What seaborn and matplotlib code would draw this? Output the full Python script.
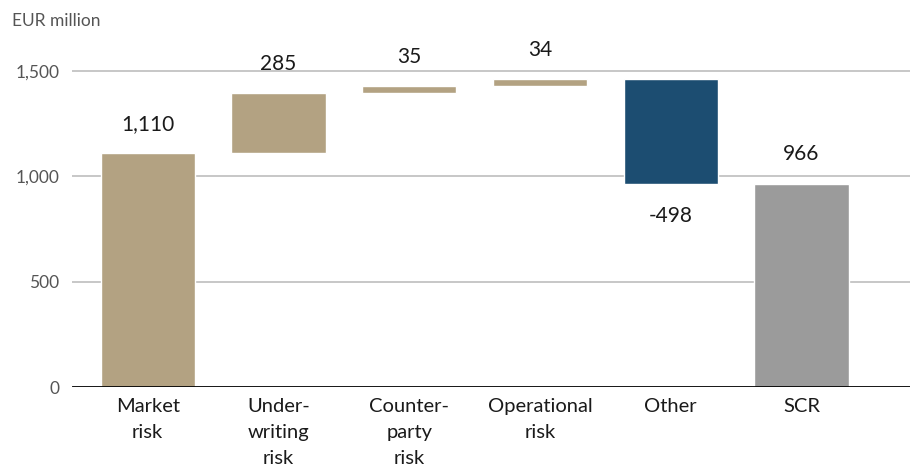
import matplotlib
matplotlib.use("Agg")
import matplotlib.pyplot as plt
import seaborn as sns

# data
categories = ["Market\nrisk", "Under-\nwriting\nrisk", "Counter-\nparty\nrisk",
              "Operational\nrisk", "Other", "SCR"]
values = [1110, 285, 35, 34, -498, 966]
labels = ["1,110", "285", "35", "34", "-498", "966"]
colors = ["#B3A282", "#B3A282", "#B3A282", "#B3A282", "#1C4D71", "#9B9B9B"]

# waterfall bottoms / tops
bottoms = []
run = 0
for i, v in enumerate(values):
    if i == len(values) - 1:
        bottoms.append(0)
    elif v >= 0:
        bottoms.append(run)
        run += v
    else:
        run += v
        bottoms.append(run)
tops = [b + abs(v) for b, v in zip(bottoms, values)]

sns.set_style("white")
plt.rcParams["font.family"] = ["Lato", "DejaVu Sans"]

fig, ax = plt.subplots(figsize=(9.1, 4.68), dpi=100)
fig.subplots_adjust(left=0.079, right=1.0, bottom=0.173, top=0.893)

sns.barplot(x=categories, y=tops, hue=categories, palette=colors,
            legend=False, width=0.72, saturation=1, ax=ax, zorder=3)

# shift the bars to float
for p, b, v in zip(ax.patches, bottoms, values):
    p.set_y(b)
    p.set_height(abs(v))

for i, (b, v, t) in enumerate(zip(bottoms, values, labels)):
    if v >= 0:
        ax.annotate(t, (i, b + v), xytext=(0, 21), textcoords="offset points",
                    ha="center", va="center", fontsize=15, color="#1a1a1a")
    else:
        ax.annotate(t, (i, b), xytext=(0, -23), textcoords="offset points",
                    ha="center", va="center", fontsize=15, color="#1a1a1a")

ax.set_ylim(0, 1600)
ax.set_xlim(-0.58, 5.83)
ax.set_yticks([0, 500, 1000, 1500])
ax.set_yticklabels(["0", "500", "1,000", "1,500"])
ax.tick_params(axis="y", length=0, pad=9, labelsize=12.5, labelcolor="#555555")
ax.tick_params(axis="x", length=0, pad=8, labelsize=14.5, labelcolor="#1a1a1a")
for lbl in ax.get_xticklabels():
    lbl.set_linespacing(1.65)
for y in [500, 1000, 1500]:
    ax.axhline(y, color="#BDBDBD", lw=1.2, zorder=1)
ax.axhline(0, color="black", lw=2, zorder=4)
sns.despine(ax=ax, left=True, bottom=True)
ax.set_xlabel("")
ax.set_ylabel("")

fig.text(0.013, 0.955, "EUR million", fontsize=12.5, color="#555555",
         ha="left", va="center")

fig.savefig("out.png", dpi=100)
